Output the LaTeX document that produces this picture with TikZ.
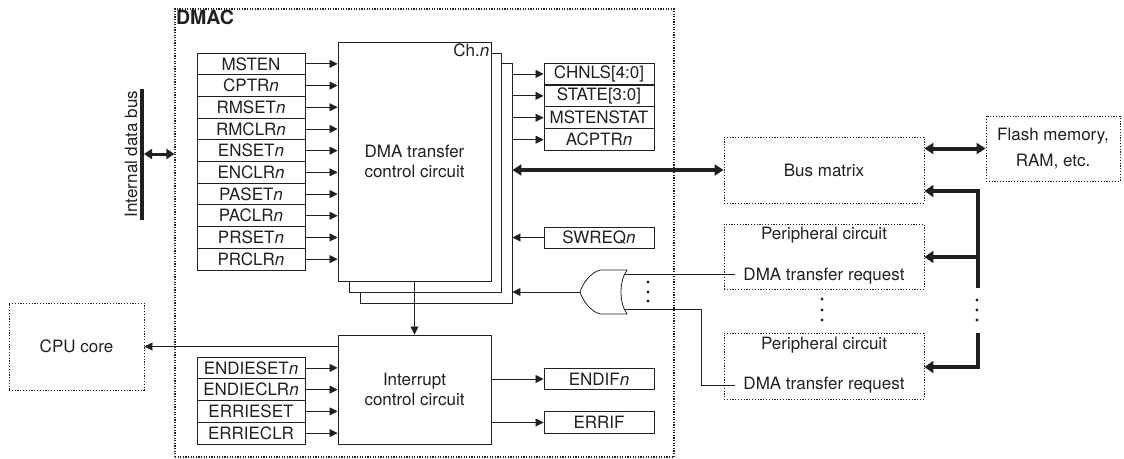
\documentclass[tikz,border=0pt]{standalone}
\usepackage{fontspec}
\setmainfont{TeX Gyre Heros}
\usetikzlibrary{arrows.meta}
\definecolor{ink}{RGB}{35,31,32}
\begin{document}
\begin{tikzpicture}[x=1pt,y=-1pt,
  every node/.style={font=\fontsize{17}{20}\selectfont, text=ink},
  reg/.style={draw=ink, line width=0.9pt, minimum width=108pt, minimum height=21.7pt, inner sep=0pt},
  oreg/.style={draw=ink, line width=0.9pt, minimum width=110pt, minimum height=21.8pt, inner sep=0pt},
  blk/.style={draw=ink, line width=0.9pt, fill=white, inner sep=0pt},
  ext/.style={draw=ink, line width=0.9pt, dash pattern=on 1.2pt off 1.6pt, inner sep=0pt},
  sig/.style={draw=ink, line width=0.8pt, -{Triangle[length=8pt,width=8pt]}},
  wire/.style={draw=ink, line width=0.8pt},
  bus/.style={draw=ink, line width=4pt},
  bustip/.style={-{Triangle[length=9pt,width=12pt]}}]
				\useasboundingbox (0,0) rectangle (1124,458);
				% DMAC frame
				\node[draw=ink, line width=1.2pt, dash pattern=on 1.2pt off 1.4pt, minimum width=499pt, minimum height=448pt] (dmac) at (424.5,233) {};
				\node[anchor=north west, inner sep=1.5pt, font=\bfseries\fontsize{19.5}{22}\selectfont] (dmaclbl) at (dmac.north west) {DMAC};
				% channel blocks
				\node[blk, minimum width=152pt, minimum height=240pt] (dmaC) at (436,183) {};
				\node[blk, minimum width=152pt, minimum height=239pt] (dmaB) at (425,172.5) {};
				\node[blk, minimum width=153pt, minimum height=239pt, align=center] (dma) at (414.5,161.5) {DMA transfer\\control circuit};
				\node[anchor=north east, inner sep=2pt] (chn) at (dma.north east) {Ch.\textit{n}};
				% left registers
				\node[reg] (msten) at (251,63.85) {MSTEN};
				\node[reg] (cptr) at (251,85.55) {CPTR\textit{n}};
				\node[reg] (rmset) at (251,107.25) {RMSET\textit{n}};
				\node[reg] (rmclr) at (251,128.95) {RMCLR\textit{n}};
				\node[reg] (enset) at (251,150.65) {ENSET\textit{n}};
				\node[reg] (enclr) at (251,172.35) {ENCLR\textit{n}};
				\node[reg] (paset) at (251,194.05) {PASET\textit{n}};
				\node[reg] (paclr) at (251,215.75) {PACLR\textit{n}};
				\node[reg] (prset) at (251,237.45) {PRSET\textit{n}};
				\node[reg] (prclr) at (251,259.15) {PRCLR\textit{n}};
				\draw[sig] (msten.east) -- (msten.east -| dma.west);
				\draw[sig] (cptr.east) -- (cptr.east -| dma.west);
				\draw[sig] (rmset.east) -- (rmset.east -| dma.west);
				\draw[sig] (rmclr.east) -- (rmclr.east -| dma.west);
				\draw[sig] (enset.east) -- (enset.east -| dma.west);
				\draw[sig] (enclr.east) -- (enclr.east -| dma.west);
				\draw[sig] (paset.east) -- (paset.east -| dma.west);
				\draw[sig] (paclr.east) -- (paclr.east -| dma.west);
				\draw[sig] (prset.east) -- (prset.east -| dma.west);
				\draw[sig] (prclr.east) -- (prclr.east -| dma.west);
				% status registers
				\node[oreg] (chnls) at (599,73.95) {CHNLS[4:0]};
				\node[oreg] (state) at (599,95.85) {STATE[3:0]};
				\node[oreg] (mstenstat) at (599,117.75) {MSTENSTAT};
				\node[oreg] (acptr) at (599,139.65) {ACPTR\textit{n}};
				\draw[sig] (dmaC.east |- chnls.west) -- (chnls.west);
				\draw[sig] (dmaC.east |- state.west) -- (state.west);
				\draw[sig] (dmaC.east |- mstenstat.west) -- (mstenstat.west);
				\draw[sig] (dmaC.east |- acptr.west) -- (acptr.west);
				\node[oreg, minimum height=21pt] (swreq) at (599,237.5) {SWREQ\textit{n}};
				\draw[sig] (swreq.west) -- (swreq.west -| dmaC.east);
				% interrupt part
				\node[blk, minimum width=153pt, minimum height=109pt, align=center] (intc) at (414.5,389.5) {Interrupt\\control circuit};
				\draw[sig] (dma.south) -- (intc.north);
				\node[reg, minimum height=21.75pt] (endieset) at (251,367.9) {ENDIESET\textit{n}};
				\node[reg, minimum height=21.75pt] (endieclr) at (251,389.6) {ENDIECLR\textit{n}};
				\node[reg, minimum height=21.75pt] (errieset) at (251,411.4) {ERRIESET};
				\node[reg, minimum height=21.75pt] (errieclr) at (251,433.1) {ERRIECLR};
				\draw[sig] (endieset.east) -- (endieset.east -| intc.west);
				\draw[sig] (endieclr.east) -- (endieclr.east -| intc.west);
				\draw[sig] (errieset.east) -- (errieset.east -| intc.west);
				\draw[sig] (errieclr.east) -- (errieclr.east -| intc.west);
				\node[oreg] (endif) at (599,379) {ENDIF\textit{n}};
				\node[oreg] (errif) at (599,422.5) {ERRIF};
				\draw[sig] (intc.east |- endif.west) -- (endif.west);
				\draw[sig] (intc.east |- errif.west) -- (errif.west);
				\node[ext, minimum width=135pt, minimum height=87pt] (cpu) at (76.5,346.5) {CPU core};
				\draw[sig] (cpu.east -| intc.west) -- (cpu.east);
				% internal data bus
				\coordinate (ibT) at (142,89);
				\coordinate (ibB) at (142,220);
				\coordinate (ibM) at (144,154);
				\draw[ink, line width=4.3pt] (ibT) -- (ibB);
				\node[rotate=90] (iblbl) at (131,154) {Internal data bus};
				\draw[ink, line width=3pt, {Triangle[length=8pt,width=10pt]}-{Triangle[length=8pt,width=10pt]}] (ibM) -- (ibM -| dmac.west);
				% outside blocks
				\node[ext, minimum width=200pt, minimum height=66pt] (bm) at (824,170) {Bus matrix};
				\node[ext, minimum width=200pt, minimum height=65pt] (perA) at (824,256.5) {};
				\node[ext, minimum width=200pt, minimum height=66pt] (perB) at (824,366) {};
				\node (titA) at (824,235) {Peripheral circuit};
				\node[inner xsep=8pt] (reqA) at (824,276) {DMA transfer request};
				\node (titB) at (824,345) {Peripheral circuit};
				\node[inner xsep=8pt] (reqB) at (824,385) {DMA transfer request};
				\node[ext, minimum width=134pt, minimum height=65pt, align=center, font=\fontsize{17}{26}\selectfont] (flash) at (1053,148.5) {Flash memory,\\RAM, etc.};
				\draw[bus, {Triangle[length=9pt,width=11pt]}-{Triangle[length=9pt,width=11pt]}] (dmaC.east |- bm.west) -- (bm.west);
				\draw[bus, {Triangle[length=9pt,width=11pt]}-{Triangle[length=9pt,width=11pt]}] (flash.west -| bm.east) -- (flash.west);
				% request bus on the right
				\coordinate (busA) at (978,191);
				\coordinate (busB) at (978,288);
				\coordinate (busC) at (978,257);
				\coordinate (busD) at (978,333);
				\coordinate (busE) at (978,367);
				\draw[bus, bustip] (busB) -- (busA) -- (bm.east |- busA);
				\draw[bus, bustip] (busC) -- (perA.east |- busC);
				\draw[bus, bustip] (busD) -- (busE) -- (perB.east |- busE);
				% OR gate
				\draw[ink, line width=0.8pt, fill=white] (627,270) -- (600,270) .. controls (590,273) and (583,283) .. (580,292) .. controls (583,301) and (590,311) .. (600,314) -- (627,314) .. controls (619,303) and (619,281) .. (627,270) -- cycle;
				\coordinate (orOut) at (580,292);
				\coordinate (orA) at (624,274);
				\coordinate (orB) at (624,309);
				\coordinate (orBk) at (701,309);
				\draw[sig] (orOut) -- (orOut -| dmaC.east);
				\draw[wire] (orA) -- (orA -| reqA.west);
				\draw[wire] (orB) -- (orBk) |- (reqB.west);
				% dots
				\fill[ink] (648,282) circle (1.6);
				\fill[ink] (648,292) circle (1.6);
				\fill[ink] (648,301) circle (1.6);
				\fill[ink] (822,299) circle (1.6);
				\fill[ink] (822,310) circle (1.6);
				\fill[ink] (822,320) circle (1.6);
				\fill[ink] (977,300) circle (1.6);
				\fill[ink] (977,310) circle (1.6);
				\fill[ink] (977,320) circle (1.6);
				\end{tikzpicture}
\end{document}
